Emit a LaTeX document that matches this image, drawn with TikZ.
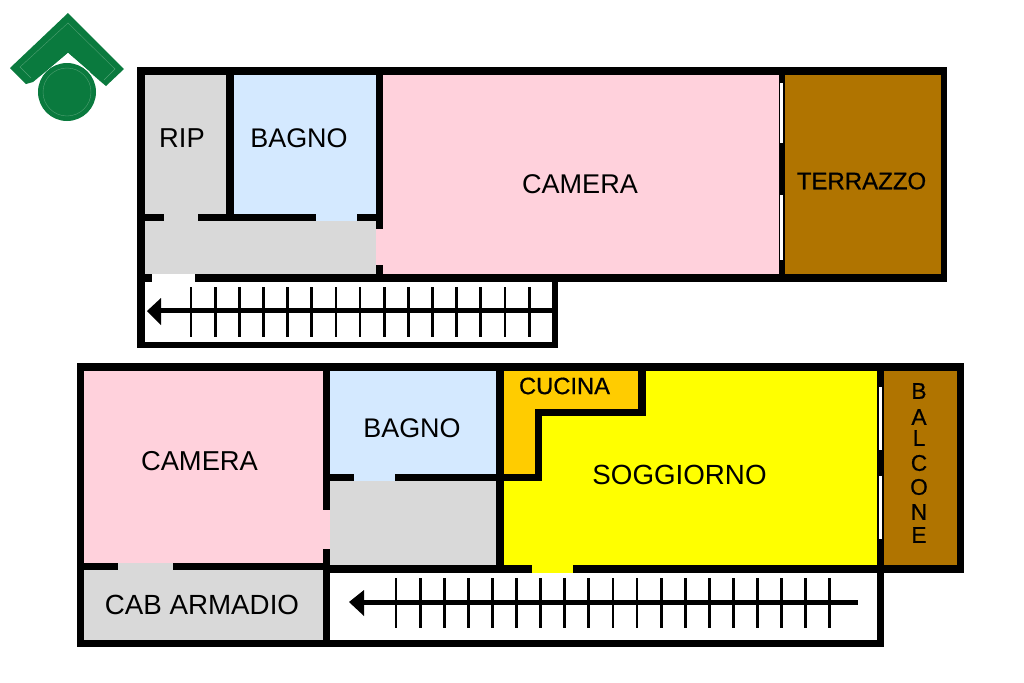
\documentclass[tikz,border=0pt]{standalone}
\usepackage{fontspec}
\setmainfont{Liberation Sans}
\newfontfamily\heavyish[FakeBold=0.6]{Liberation Sans}
\definecolor{pinkroom}{HTML}{FFD1DC}
\definecolor{blueroom}{HTML}{D4E9FF}
\definecolor{grayroom}{HTML}{D9D9D9}
\definecolor{brownroom}{HTML}{B07400}
\definecolor{yellowroom}{HTML}{FFFF00}
\definecolor{orangeroom}{HTML}{FFCC00}
\definecolor{logogreen}{HTML}{0A7A3E}
\definecolor{logoline}{HTML}{4F9F72}
\newcommand{\px}[1]{\fontsize{#1}{#1}\selectfont}
\tikzset{
  wall/.style={fill=black},
  pinkfill/.style={fill=pinkroom},
  bluefill/.style={fill=blueroom},
  grayfill/.style={fill=grayroom},
  brownfill/.style={fill=brownroom},
  yellowfill/.style={fill=yellowroom},
  orangefill/.style={fill=orangeroom},
  glass/.style={fill=white},
  tick/.style={line width=2.1pt,black},
  label/.style={inner sep=0pt,text=black,anchor=center},
}
\begin{document}
\begin{tikzpicture}[x=0.75pt,y=-0.75pt]
\useasboundingbox (0,0) rectangle (1024,682);
\fill[white] (0,0) rectangle (1024,682);
% logo
\fill[logogreen] (68,13) -- (124,69) -- (106,86) -- (100,81) -- (68,53) -- (33,82) -- (26,84) -- (10,68) -- cycle;
\fill[white] (68,53) -- (90,72) -- (46,72) -- cycle;
\fill[logogreen] (67,92) circle (29);
\draw[logoline,line width=0.3pt] (31,78) -- (20,67) -- (68,23) -- (115,69) -- (104,80);
\draw[logoline,line width=0.3pt] (67,92) circle (24);
% upper floor: outer shell and rooms
\fill[wall] (137,67) rectangle (947,282);
\fill[wall] (137,282) rectangle (558,348);
\fill[white] (145,282) rectangle (552,342);
\fill[grayfill] (145,75) rectangle (226,214);
\fill[bluefill] (234,75) rectangle (376,214);
\fill[grayfill] (145,221) rectangle (376,274);
\fill[grayfill] (164,214) rectangle (198,221);
\fill[bluefill] (316,214) rectangle (357,221);
\fill[pinkfill] (383,75) rectangle (779,274);
\fill[pinkfill] (376,229) rectangle (383,265);
\fill[brownfill] (785,75) rectangle (941,274);
\fill[glass] (780,83) rectangle (783,143);
\fill[glass] (780,195) rectangle (783,260);
\fill[white] (152,274) rectangle (195,282);
% upper stairs
\foreach \k in {0,...,14} \draw[tick] ({191+24.15*\k},287) -- ({191+24.15*\k},337);
\fill[wall] (160,308) rectangle (552,313);
\fill[wall] (147,311) -- (161,298) -- (161,325) -- cycle;
% lower floor: outer shell and rooms
\fill[wall] (77,363) rectangle (964,573);
\fill[wall] (77,573) rectangle (884,647);
\fill[white] (330,573) rectangle (877,640);
\fill[pinkfill] (84,371) rectangle (323,563);
\fill[pinkfill] (323,510) rectangle (330,549);
\fill[grayfill] (84,570) rectangle (323,640);
\fill[grayfill] (118,563) rectangle (173,570);
\fill[bluefill] (330,371) rectangle (496,474);
\fill[bluefill] (354,474) rectangle (395,481);
\fill[grayfill] (330,481) rectangle (496,565);
\fill[yellowfill] (504,371) rectangle (877,565);
\fill[yellowfill] (532,565) rectangle (573,573);
\fill[orangefill] (504,371) -- (638,371) -- (638,409) -- (535,409) -- (535,474) -- (504,474) -- cycle;
\fill[wall] (638,371) rectangle (646,416);
\fill[wall] (535,409) rectangle (646,416);
\fill[wall] (535,409) rectangle (542,481);
\fill[wall] (504,474) rectangle (542,481);
\fill[brownfill] (884,371) rectangle (957,565);
\fill[glass] (879,387) rectangle (882,450);
\fill[glass] (879,476) rectangle (882,539);
% lower stairs
\foreach \k in {0,...,18} \draw[tick] ({396+24.1*\k},578) -- ({396+24.1*\k},628);
\fill[wall] (362,600) rectangle (858,604.5);
\fill[wall] (349,602) -- (364,590) -- (364,616) -- cycle;
% labels
\node[label] (rip) at (182,138) {\px{20.5}RIP};
\node[label] (bagnoa) at (299,138) {\px{20.2}BAGNO};
\node[label] (cameraa) at (580,184) {\px{20.3}CAMERA};
\node[label] (terrazzo) at (861.5,181) {\px{18}\heavyish TERRAZZO};
\node[label] (camerab) at (199.5,461) {\px{20.5}CAMERA};
\node[label] (bagnob) at (412,428) {\px{20.2}BAGNO};
\node[label] (cucina) at (564.5,386) {\px{17.8}\heavyish CUCINA};
\node[label] (soggiorno) at (679.5,475) {\px{20.8}SOGGIORNO};
\node[label] (cab) at (202,605) {\px{20.8}CAB ARMADIO};
\node[label] (b1) at (919,391) {\px{17}\heavyish B};
\node[label] (b2) at (919,417) {\px{17}\heavyish A};
\node[label] (b3) at (919,438) {\px{17}\heavyish L};
\node[label] (b4) at (919,463) {\px{17}\heavyish C};
\node[label] (b5) at (919,487) {\px{17}\heavyish O};
\node[label] (b6) at (919,512) {\px{17}\heavyish N};
\node[label] (b7) at (919,535) {\px{17}\heavyish E};
\end{tikzpicture}
\end{document}
